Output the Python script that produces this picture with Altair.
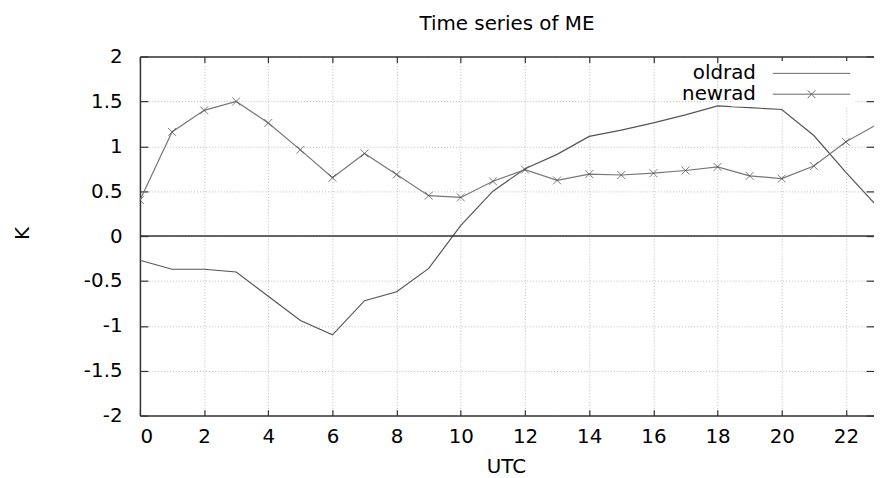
import altair as alt
import pandas as pd

hours = list(range(24))
oldrad = [-0.27, -0.37, -0.37, -0.40, -0.67, -0.94, -1.10, -0.72, -0.62, -0.36,
          0.12, 0.50, 0.75, 0.91, 1.11, 1.18, 1.26, 1.35, 1.45, 1.43,
          1.41, 1.12, 0.71, 0.32]
newrad = [0.40, 1.16, 1.40, 1.50, 1.26, 0.96, 0.65, 0.92, 0.685, 0.45,
          0.43, 0.61, 0.74, 0.62, 0.69, 0.68, 0.70, 0.73, 0.77, 0.67,
          0.64, 0.78, 1.05, 1.25]
series_names = ["oldrad", "newrad"]
x_ticks = list(range(0, 23, 2))
y_ticks = [-2, -1.5, -1, -0.5, 0, 0.5, 1, 1.5, 2]
chart_title = "Time series of ME"
x_title = "UTC"
y_title = "K"

FONT = "DejaVu Sans"
AX = "#333333"

df = pd.DataFrame({
    "UTC": hours + hours,
    "K": oldrad + newrad,
    "series": ["oldrad"] * len(hours) + ["newrad"] * len(hours),
})
df_old = df[df["series"] == "oldrad"]
df_new = df[df["series"] == "newrad"]
zero_df = pd.DataFrame({"x0": [hours[0]], "x1": [hours[-1]], "K": [0]})

xscale = alt.Scale(domain=[0, 22.875], nice=False, zero=False)
yscale = alt.Scale(domain=[-2, 2], nice=False, zero=False)

XMARK = "M-1,-1L1,1M-1,1L1,-1"
LEG_OLD = "M3.03,0H11.03"
LEG_NEW = "M3.03,0H11.03M6.63,-0.4L7.43,0.4M6.63,0.4L7.43,-0.4"

common_lbl = dict(labelFont=FONT, labelFontSize=20, labelColor="#000",
                  titleFont=FONT, titleFontSize=20, titleColor="#000",
                  titleFontWeight="normal")

line_old = alt.Chart(df_old).mark_line(strokeWidth=1.2, color="#555555",
                                       clip=True).encode(
    x=alt.X("UTC:Q", scale=xscale, axis=alt.Axis(
        orient="bottom", values=x_ticks, offset=-6, tickSize=6, tickColor=AX,
        tickWidth=1.2, domain=False, grid=True, gridDash=[1, 2],
        gridColor="#aaaaaa", gridWidth=0.8, labelPadding=11, title=x_title,
        titleX=369, titleY=57, titleBaseline="middle", titleAlign="center",
        **common_lbl)),
    y=alt.Y("K:Q", scale=yscale, axis=alt.Axis(
        orient="left", values=y_ticks, offset=-8, tickSize=8, tickColor=AX,
        tickWidth=1.2, domain=False, grid=True, gridDash=[1, 2],
        gridColor="#aaaaaa", gridWidth=0.8, labelPadding=18,
        labelExpr="'' + datum.value", title=y_title, titleAngle=270,
        titleX=-126, titleY=178, titleBaseline="middle", titleAlign="center",
        **common_lbl)),
)

line_new = alt.Chart(df_new).mark_line(strokeWidth=1.2, color="#777777",
                                       clip=True).encode(
    x=alt.X("UTC:Q", scale=xscale, axis=None),
    y=alt.Y("K:Q", scale=yscale, axis=None),
)

points = alt.Chart(df_new).mark_point(shape=XMARK, size=64, filled=False,
                                      color="#444444", strokeWidth=1,
                                      clip=True).encode(
    x=alt.X("UTC:Q", scale=xscale, axis=alt.Axis(
        orient="top", values=x_ticks, offset=-6, tickSize=6, tickColor=AX,
        tickWidth=1.2, domain=False, grid=False, labels=False, title=None)),
    y=alt.Y("K:Q", scale=yscale, axis=alt.Axis(
        orient="right", values=y_ticks, offset=-8, tickSize=8, tickColor=AX,
        tickWidth=1.2, domain=False, grid=False, labels=False, title=None)),
)

legend_layer = alt.Chart(df).mark_point(opacity=0, filled=False,
                                        color="#666666", size=380,
                                        clip=True).encode(
    x=alt.X("UTC:Q", scale=xscale, axis=alt.Axis(
        orient="bottom", offset=0, domain=True, domainColor=AX,
        domainWidth=1.5, ticks=False, labels=False, grid=False, title=None)),
    y=alt.Y("K:Q", scale=yscale, axis=alt.Axis(
        orient="left", offset=0, domain=True, domainColor=AX,
        domainWidth=1.5, ticks=False, labels=False, grid=False, title=None)),
    shape=alt.Shape("series:N", scale=alt.Scale(domain=series_names,
                                                range=[LEG_OLD, LEG_NEW]),
                    legend=alt.Legend(
                        title=None, orient="none", legendX=596, legendY=4.5,
                        fillColor="white", padding=2, symbolSize=380,
                        symbolOpacity=1, symbolStrokeColor="#666666",
                        symbolFillColor="transparent", symbolStrokeWidth=1,
                        labelFont=FONT, labelFontSize=20, labelColor="#000",
                        labelAlign="right", labelOffset=2, rowPadding=0)),
)

zero_line = alt.Chart(zero_df).mark_rule(color="#333333", strokeWidth=1.5,
                                         clip=True).encode(
    x=alt.X("x0:Q", scale=xscale, axis=alt.Axis(
        orient="top", offset=0, domain=True, domainColor=AX, domainWidth=1.5,
        ticks=False, labels=False, grid=False, title=None)),
    x2="x1:Q",
    y=alt.Y("K:Q", scale=yscale, axis=None),
)

chart = alt.layer(line_old, line_new, points, zero_line,
                  legend_layer).resolve_axis(
    x="independent", y="independent"
).properties(
    width=740, height=362,
    title=alt.TitleParams(chart_title, font=FONT, fontSize=20,
                          fontWeight="normal", color="#000", anchor="middle",
                          frame="group", offset=13),
    autosize=alt.AutoSizeParams(type="none"),
    padding={"left": 133, "top": 47, "right": 0, "bottom": 60},
).configure_view(stroke=None)

chart.save("out.html", embed_options={"renderer": "svg", "actions": False})
